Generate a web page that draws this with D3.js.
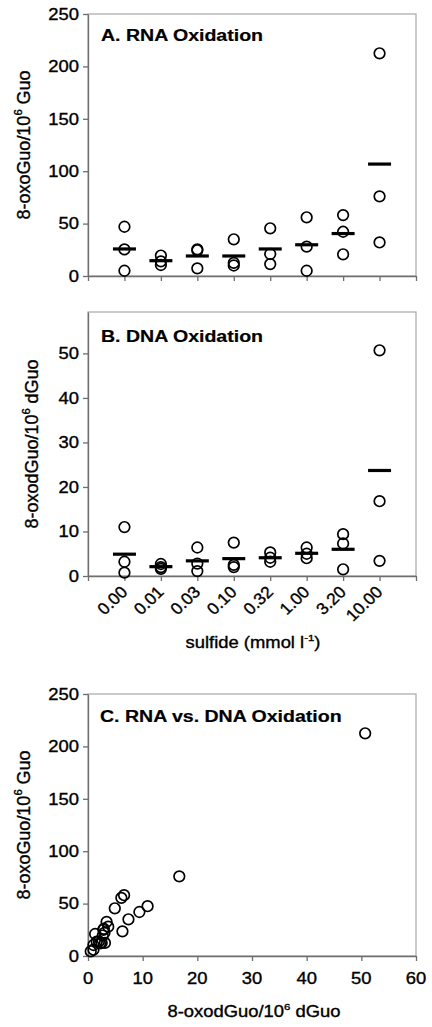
<!DOCTYPE html>
<html><head><meta charset="utf-8">
<script src="https://cdn.jsdelivr.net/npm/d3@7"></script>
<style>html,body{margin:0;padding:0;background:#fff}svg{display:block}</style>
</head><body>
<script>
// ---------- data ----------
const categories = ["0.00","0.01","0.03","0.10","0.32","1.00","3.20","10.00"];
const rnaValues = [[47,25.4,5.0],[19.5,14,10.5],[25.5,24.5,7.3],[35,12.5,10],[45.5,21,11.4],[56,28,5],[58.1,42.2,20.7],[212.5,76,32]];
const rnaMeans  = [25.8,14.6,19.1,19.1,25.8,29.8,40.5,106.8];
const dnaValues = [[11.0,3.2,0.75],[2.7,2.0,1.6],[6.4,2.8,1.1],[7.5,2.5,2.0],[5.3,4.1,3.2],[6.4,5.0,4.0],[9.4,7.3,1.5],[50.7,16.8,3.4]];
const dnaMeans  = [4.9,2.1,3.4,3.9,4.1,5.1,6.0,23.7];
const scatterDNA = [0.5,1.0,1.0,1.6,2.0,2.2,2.5,3.1,1.3,2.7,2.8,2.9,3.0,3.7,3.4,4.9,6.1,6.6,6.3,7.4,9.4,10.9,16.7,50.7];
const scatterRNA = [4.5,6,10.5,13.7,14,12,12.5,12.5,21,19.5,25,26,22,28,32.5,45.5,55.5,58,23.5,35,42,47.5,76,212.5];
const rnaTicks = [0,50,100,150,200,250];
const dnaTicks = [0,10,20,30,40,50];
const scatterXTicks = [0,10,20,30,40,50,60];

// ---------- layout ----------
const W = 432, H = 1027, SX = 1.15;
const FONT = "'Liberation Sans', Arial, sans-serif";
const svg = d3.select("body").append("svg").attr("width", W).attr("height", H);
svg.append("rect").attr("width", W).attr("height", H).attr("fill", "#fff");

function txt(x, y, str, o = {}) {
  const fs = o.size || 16;
  const t = svg.append("text")
    .attr("transform", `translate(${x},${y}) scale(${o.sx ?? SX},1)` + (o.rot ? ` rotate(${o.rot})` : ""))
    .attr("font-family", FONT).attr("font-size", fs)
    .attr("font-weight", o.bold ? "bold" : "normal")
    .attr("text-anchor", o.anchor || "start").attr("fill", "#000")
    .attr("stroke", "#000").attr("stroke-width", o.bold ? 0.2 : 0.35);
  if (o.dy) t.attr("dy", o.dy);
  if (Array.isArray(str)) {
    str.forEach(p => {
      const s = t.append("tspan").text(p.t);
      if (p.sup) s.attr("font-size", fs * 0.62).attr("dy", -fs * 0.42);
      if (p.after) s.attr("dy", fs * 0.42);
    });
  } else t.text(str);
  return t;
}

const L = 88, R = 416;
const AXC = "#6e6e6e", FRAME = "#a8a8a8";

function frame(top, bottom) {
  svg.append("rect").attr("x", L).attr("y", top).attr("width", R - L).attr("height", bottom - top)
    .attr("fill", "none").attr("stroke", FRAME).attr("stroke-width", 1.2);
}
function yAxis(y, ticks) {
  const g = svg.append("g").attr("transform", `translate(${L},0)`)
    .call(d3.axisLeft(y).tickValues(ticks).tickSize(5).tickSizeOuter(0).tickFormat(""));
  g.selectAll("path,line").attr("stroke", AXC).attr("stroke-width", 1.3);
  ticks.forEach(v => txt(79, y(v), String(v), {anchor: "end", dy: "0.36em", size: 16}));
}
function xAxisGen(x, bottom, ticks) {
  const g = svg.append("g").attr("transform", `translate(0,${bottom})`)
    .call(d3.axisBottom(x).tickValues(ticks).tickSize(5).tickSizeOuter(0).tickFormat(""));
  g.selectAll("path,line").attr("stroke", AXC).attr("stroke-width", 1.3);
}

function stripPanel(top, bottom, ymax, ticks, values, means, title, ytitle, ytx) {
  const x = d3.scaleLinear().domain([0, 9]).range([L, R]);
  const y = d3.scaleLinear().domain([0, ymax]).range([bottom, top]);
  frame(top, bottom);
  xAxisGen(x, bottom, d3.range(0, 10));
  yAxis(y, ticks);
  values.forEach((vals, i) => {
    vals.forEach(v => svg.append("circle").attr("cx", x(i + 1)).attr("cy", y(v)).attr("r", 5.3)
      .attr("fill", "none").attr("stroke", "#000").attr("stroke-width", 1.7));
  });
  means.forEach((m, i) => svg.append("line").attr("x1", x(i + 1) - 11.5).attr("x2", x(i + 1) + 11.5)
    .attr("y1", y(m)).attr("y2", y(m)).attr("stroke", "#000").attr("stroke-width", 3.2));
  txt(101, top + title.dy, title.t, {bold: true, size: 17});
  txt(ytx, (top + bottom) / 2, ytitle, {anchor: "middle", rot: -90, size: 18, sx: 1.05});
  return x;
}

// Panel A
stripPanel(14, 276, 250, rnaTicks, rnaValues, rnaMeans, {t: "A. RNA Oxidation", dy: 26.5},
  [{t: "8-oxoGuo/10"}, {t: "6", sup: true}, {t: " Guo", after: true}], 30);

// Panel B
const xb = stripPanel(312, 576, 59.3, dnaTicks, dnaValues, dnaMeans, {t: "B. DNA Oxidation", dy: 29.5},
  [{t: "8-oxodGuo/10"}, {t: "6", sup: true}, {t: " dGuo", after: true}], 38);
categories.forEach((c, i) => txt(xb(i + 1) + 4, 593, c, {anchor: "end", rot: -45, size: 16.5, sx: 1.05}));
txt(253, 648, [{t: "sulfide (mmol l"}, {t: "-1", sup: true}, {t: ")", after: true}], {anchor: "middle", size: 16});

// Panel C
{
  const top = 694, bottom = 956;
  const x = d3.scaleLinear().domain([0, 60]).range([L, R]);
  const y = d3.scaleLinear().domain([0, 250]).range([bottom, top]);
  frame(top, bottom);
  xAxisGen(x, bottom, scatterXTicks);
  yAxis(y, rnaTicks);
  scatterXTicks.forEach(v => txt(x(v), 984, String(v), {anchor: "middle", size: 16}));
  scatterDNA.forEach((d, i) => svg.append("circle").attr("cx", x(d)).attr("cy", y(scatterRNA[i])).attr("r", 5.3)
    .attr("fill", "none").attr("stroke", "#000").attr("stroke-width", 1.7));
  txt(100, 721.5, "C. RNA vs. DNA Oxidation", {bold: true, size: 17});
  txt(30, (top + bottom) / 2, [{t: "8-oxoGuo/10"}, {t: "6", sup: true}, {t: " Guo", after: true}], {anchor: "middle", rot: -90, size: 18, sx: 1.05});
  txt(254, 1017, [{t: "8-oxodGuo/10"}, {t: "6", sup: true}, {t: " dGuo", after: true}], {anchor: "middle", size: 16});
}
</script>
</body></html>
